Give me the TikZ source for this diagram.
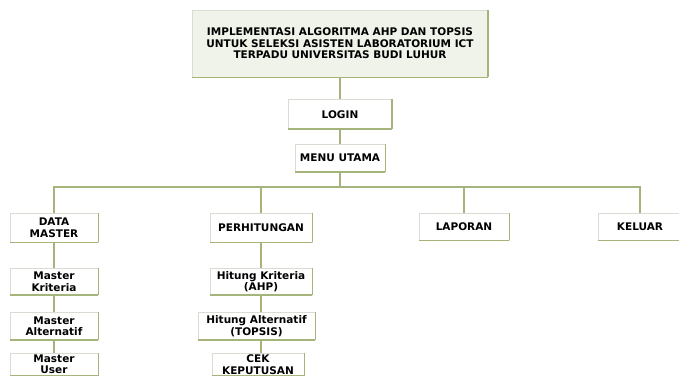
\documentclass[tikz,border=0pt]{standalone}
\usepackage{fontspec}
\setmainfont{DejaVu Sans}
\usepackage{tikz}
\usetikzlibrary{positioning}

\definecolor{lineolive}{HTML}{A4B47A}
\definecolor{boxgray}{HTML}{D9DCD2}
\definecolor{titlefill}{HTML}{F0F3EA}

\begin{document}
\begin{tikzpicture}[x=1pt,y=1pt,
                    shade line/.style={draw=lineolive,line width=1.6pt,line cap=square},
                    tree line/.style={draw=lineolive,line width=1.4pt},
                    main node/.style={draw=boxgray,fill=white,line width=0.8pt,align=center,inner sep=1pt,
                      minimum height=27pt,font=\bfseries\fontsize{10.5}{11.6}\selectfont,
                      append after command={(\tikzlastnode.north east) edge[shade line] (\tikzlastnode.south east)
                        (\tikzlastnode.south east) edge[shade line] (\tikzlastnode.south west)}}]

		\useasboundingbox[fill=white] (0,0) rectangle (679,375);

		\node[main node,fill=titlefill,minimum width=295pt,minimum height=67pt] (title) at (340,331.5)
			{IMPLEMENTASI ALGORITMA AHP DAN TOPSIS\\UNTUK SELEKSI ASISTEN LABORATORIUM ICT\\TERPADU UNIVERSITAS BUDI LUHUR};
		\node[main node,minimum width=103pt,minimum height=29pt] (login) [below=22pt of title] {LOGIN};
		\node[main node,minimum width=90pt] (menu) [below=15pt of login] {MENU UTAMA};

		\node[main node,minimum width=88pt,minimum height=29pt] (dm) at (54,147.5) {DATA\\MASTER};
		\node[main node,minimum width=102pt,minimum height=29pt] (perh) at (261,147.5) {PERHITUNGAN};
		\node[main node,minimum width=90pt] (lap) at (464,148.5) {LAPORAN};
		\node[main node,minimum width=84pt] (kel) at (640,148.5) {KELUAR};

		\node[main node,minimum width=88pt,minimum height=26pt] (mk) [below=26pt of dm] {Master\\Kriteria};
		\node[main node,minimum width=88pt] (ma) [below=17pt of mk] {Master\\Alternatif};
		\node[main node,minimum width=88pt,minimum height=22pt,inner sep=0pt] (mu) [below=13pt of ma] {Master\\User};

		\node[main node,minimum width=102pt,minimum height=26pt] (hk) [below=26pt of perh] {Hitung Kriteria\\(AHP)};
		\node[main node,minimum width=117pt] (ha) [below=17pt of hk,xshift=-4.5pt] {Hitung Alternatif\\(TOPSIS)};
		\node[main node,minimum width=92pt,minimum height=22pt,inner sep=0pt] (cek) [below=13pt of ha,xshift=1.5pt] {CEK\\KEPUTUSAN};

		\coordinate (bus) at (340,188);

		\path[tree line]
		(title) -- (login)
		(login) -- (menu)
		(menu) -- (bus)
		(bus) -| (dm)
		(bus) -| (perh)
		(bus) -| (lap)
		(bus) -| (kel)
		(dm) -- (mk)
		(mk) -- (ma)
		(ma) -- (mu)
		(perh) -- (hk)
		(hk.south) -- (hk.south |- ha.north)
		(hk.south |- ha.south) -- (hk.south |- cek.north);
	\end{tikzpicture}
\end{document}
